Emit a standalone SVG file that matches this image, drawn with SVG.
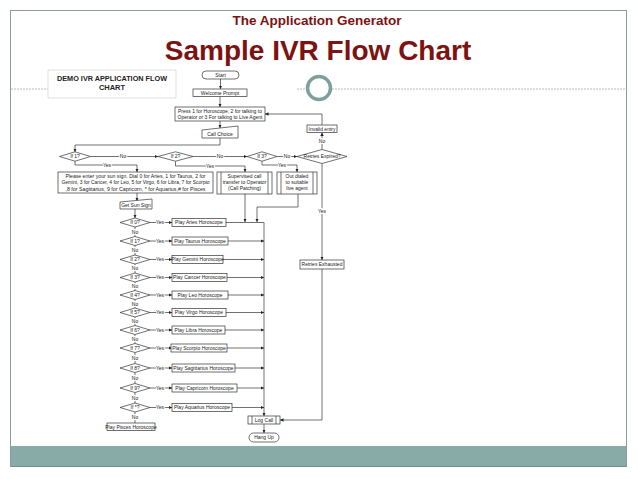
<svg xmlns="http://www.w3.org/2000/svg" width="638" height="479" viewBox="0 0 638 479">
<defs>
<marker id="ah" markerUnits="userSpaceOnUse" markerWidth="4" markerHeight="4" refX="3.5" refY="2" orient="auto"><path d="M0,0.3 L3.6,2 L0,3.7 Z" fill="#222"/></marker>
<style>
.ln{stroke:#333;stroke-width:0.7;fill:none}
.bx{fill:#fff;stroke:#333;stroke-width:0.7}
.t{font-family:"Liberation Sans",Arial,sans-serif;font-size:5px;fill:#222;text-anchor:middle}
.lb{font-family:"Liberation Sans",Arial,sans-serif;font-size:5px;fill:#222;text-anchor:middle;stroke:#fff;stroke-width:2;paint-order:stroke}
.ti{font-family:"Liberation Sans",Arial,sans-serif;font-weight:bold;fill:#7d1212;text-anchor:middle}
.dash{stroke:#aaa;stroke-width:0.8;stroke-dasharray:2 1;fill:none}
</style>
</defs>
<rect x="0" y="0" width="638" height="479" fill="#fff"/>
<g id="slide">
<rect x="10.5" y="10.5" width="616" height="456" fill="#fff" stroke="#8c9c9b" stroke-width="1"/>
<rect x="11" y="446" width="615" height="21" fill="#89aba8"/>
<line x1="11" y1="466.5" x2="626" y2="466.5" stroke="#6f8f8c" stroke-width="1"/>
<line class="dash" x1="11" y1="89" x2="48" y2="89"/>
<line class="dash" x1="297" y1="89" x2="306" y2="89"/>
<line class="dash" x1="332" y1="89" x2="626" y2="89"/>
<circle cx="319" cy="88" r="11.5" fill="none" stroke="#7f9f9c" stroke-width="3.5"/>
<text class="ti" x="317" y="25" font-size="13.5">The Application Generator</text>
<text class="ti" x="318" y="60" font-size="28">Sample IVR Flow Chart</text>
</g>
<g id="caption">
<rect x="48" y="70" width="128" height="28" fill="#fff" stroke="#ccc" stroke-width="0.6"/>
<text x="112" y="81" font-family="Liberation Sans,Arial,sans-serif" font-weight="bold" font-size="7.5" text-anchor="middle" textLength="110" lengthAdjust="spacingAndGlyphs" fill="#222">DEMO IVR APPLICATION FLOW</text>
<text x="112" y="90" font-family="Liberation Sans,Arial,sans-serif" font-weight="bold" font-size="7.5" text-anchor="middle" fill="#222">CHART</text>
</g>
<g id="connectors">
<path class="ln" d="M220.5,79 V89" marker-end="url(#ah)"/>
<path class="ln" d="M220,96.5 V107" marker-end="url(#ah)"/>
<path class="ln" d="M220,121 V128" marker-end="url(#ah)"/>
<path class="ln" d="M220,138 V145 H75 V152" marker-end="url(#ah)"/>
<path class="ln" d="M90.5,156.5 H158" marker-end="url(#ah)"/>
<path class="ln" d="M193,156.5 H247" marker-end="url(#ah)"/>
<path class="ln" d="M277,156.5 H297" marker-end="url(#ah)"/>
<path class="ln" d="M322,149.5 V132.5" marker-end="url(#ah)"/>
<path class="ln" d="M322,125 V114 H265" marker-end="url(#ah)"/>
<path class="ln" d="M322,163.5 V260" marker-end="url(#ah)"/>
<path class="ln" d="M322,269 V420 H280" marker-end="url(#ah)"/>
<path class="ln" d="M75,161.2 V165 H137 V172" marker-end="url(#ah)"/>
<path class="ln" d="M175.5,161.2 V166 H245 V172" marker-end="url(#ah)"/>
<path class="ln" d="M262,161.2 V165 H297 V172" marker-end="url(#ah)"/>
<path class="ln" d="M137,193 V201" marker-end="url(#ah)"/>
<path class="ln" d="M135,209 V218" marker-end="url(#ah)"/>
<path class="ln" d="M245,194 V222" marker-end="url(#ah)"/>
<path class="ln" d="M298,194 V207 H257 V222" marker-end="url(#ah)"/>
<path class="ln" d="M226,222.5 H264" stroke-width="1.2"/>
<path class="ln" d="M264,222.5 V416" marker-end="url(#ah)"/>
<path class="ln" d="M228,241 H264" marker-end="url(#ah)"/>
<path class="ln" d="M223,259.5 H264" marker-end="url(#ah)"/>
<path class="ln" d="M227,277.5 H264" marker-end="url(#ah)"/>
<path class="ln" d="M228,295 H264" marker-end="url(#ah)"/>
<path class="ln" d="M226,312.5 H264" marker-end="url(#ah)"/>
<path class="ln" d="M225,330 H264" marker-end="url(#ah)"/>
<path class="ln" d="M227,348 H264" marker-end="url(#ah)"/>
<path class="ln" d="M235,368 H264" marker-end="url(#ah)"/>
<path class="ln" d="M237,388 H264" marker-end="url(#ah)"/>
<path class="ln" d="M232,407.5 H264" marker-end="url(#ah)"/>
<path class="ln" d="M150,222.5 H172" marker-end="url(#ah)"/>
<path class="ln" d="M150,241 H172" marker-end="url(#ah)"/>
<path class="ln" d="M150,259.5 H172" marker-end="url(#ah)"/>
<path class="ln" d="M150,277.5 H172" marker-end="url(#ah)"/>
<path class="ln" d="M150,295 H172" marker-end="url(#ah)"/>
<path class="ln" d="M150,312.5 H172" marker-end="url(#ah)"/>
<path class="ln" d="M150,330 H172" marker-end="url(#ah)"/>
<path class="ln" d="M150,348 H172" marker-end="url(#ah)"/>
<path class="ln" d="M150,368 H172" marker-end="url(#ah)"/>
<path class="ln" d="M150,388 H172" marker-end="url(#ah)"/>
<path class="ln" d="M150,407.5 H172" marker-end="url(#ah)"/>
<path class="ln" d="M135,227 V236.5 M135,245.5 V255 M135,264 V273 M135,282 V290.5 M135,299.5 V308 M135,317 V325.5 M135,334.5 V343.5 M135,352.5 V363.5 M135,372.5 V383.5 M135,392.5 V403 M135,412 V423"/>
<path class="ln" d="M264,424 V433" marker-end="url(#ah)"/>
<text class="lb" x="123" y="158.3">No</text>
<text class="lb" x="220" y="158.3">No</text>
<text class="lb" x="287" y="158.3">No</text>
<text class="lb" x="322" y="142.5">No</text>
<text class="lb" x="322" y="213">Yes</text>
<text class="lb" x="107" y="166.8">Yes</text>
<text class="lb" x="210" y="167.8">Yes</text>
<text class="lb" x="282" y="166.8">Yes</text>
<text class="lb" x="160" y="224.3">Yes</text>
<text class="lb" x="160" y="242.8">Yes</text>
<text class="lb" x="160" y="261.3">Yes</text>
<text class="lb" x="160" y="279.3">Yes</text>
<text class="lb" x="160" y="296.8">Yes</text>
<text class="lb" x="160" y="314.3">Yes</text>
<text class="lb" x="160" y="331.8">Yes</text>
<text class="lb" x="160" y="349.8">Yes</text>
<text class="lb" x="160" y="369.8">Yes</text>
<text class="lb" x="160" y="389.8">Yes</text>
<text class="lb" x="160" y="409.3">Yes</text>
<text class="lb" x="135" y="233.5">No</text>
<text class="lb" x="135" y="252">No</text>
<text class="lb" x="135" y="270.3">No</text>
<text class="lb" x="135" y="288">No</text>
<text class="lb" x="135" y="305.5">No</text>
<text class="lb" x="135" y="323">No</text>
<text class="lb" x="135" y="340.8">No</text>
<text class="lb" x="135" y="359.8">No</text>
<text class="lb" x="135" y="379.8">No</text>
<text class="lb" x="135" y="399.5">No</text>
<text class="lb" x="135" y="419">No</text>
</g>
<g id="start"><rect class="bx" x="202" y="71" width="37" height="8" rx="4"/><text class="t" x="220.5" y="76.8">Start</text></g>
<g id="welcome"><rect class="bx" x="193" y="89" width="54" height="7.5"/><text class="t" x="220" y="94.6">Welcome Prompt</text></g>
<g id="menu"><rect class="bx" x="175" y="107" width="90" height="14"/><text class="t" x="220" y="112.6">Press 1 for Horoscope, 2 for talking to</text><text class="t" x="220" y="118.6">Operator or 3 For talking to Live Agent</text></g>
<g id="callchoice"><polygon class="bx" points="202,130 238,126 238,138 202,138"/><text class="t" x="220" y="135.6">Call Choice</text></g>
<g id="if1"><polygon class="bx" points="59.5,156.5 75,151.8 90.5,156.5 75,161.2"/><text class="t" x="75" y="158.3">If 1?</text></g>
<g id="if2"><polygon class="bx" points="158,156.5 175.5,151.8 193,156.5 175.5,161.2"/><text class="t" x="175.5" y="158.3">If 2?</text></g>
<g id="if3"><polygon class="bx" points="247,156.5 262,151.8 277,156.5 262,161.2"/><text class="t" x="262" y="158.3">If 3?</text></g>
<g id="retries"><polygon class="bx" points="297,156.5 322,149.5 347,156.5 322,163.5"/><text class="t" x="322" y="158.3">Retries Expired?</text></g>
<g id="invalid"><rect class="bx" x="307" y="125" width="30" height="7.5"/><text class="t" x="322" y="130.6">Invalid entry</text></g>
<g id="exhausted"><rect class="bx" x="300" y="260" width="44" height="9"/><text class="t" x="322" y="266.3">Retries Exhausted</text></g>
<g id="sunprompt"><rect class="bx" x="58" y="172" width="155" height="21"/>
<text class="t" x="135.5" y="177.8" textLength="140" lengthAdjust="spacingAndGlyphs">Please enter your sun sign. Dial 0 for Aries, 1 for Taurus, 2 for</text>
<text class="t" x="135.5" y="184.3" textLength="148" lengthAdjust="spacingAndGlyphs">Gemini, 3 for Cancer, 4 for Leo, 5 for Virgo, 6 for Libra, 7 for Scorpio</text>
<text class="t" x="135.5" y="190.8" textLength="140" lengthAdjust="spacingAndGlyphs">,8 for Sagittarius, 9 for Capricorn, * for Aquarius,# for Pisces</text></g>
<g id="getsun"><polygon class="bx" points="120,202 152,199 152,209 120,209"/><text class="t" x="136" y="206.6">Get Sun Sign</text></g>
<g id="supervised"><rect class="bx" x="217" y="172" width="55" height="22"/><path class="ln" d="M221,172 V194 M268,172 V194"/><text class="t" x="244.5" y="178.3">Supervised call</text><text class="t" x="244.5" y="184.3">transfer to Operator</text><text class="t" x="244.5" y="190.3">(Call Patching)</text></g>
<g id="outdialed"><rect class="bx" x="277" y="172" width="40" height="22"/><path class="ln" d="M281,172 V194 M313,172 V194"/><text class="t" x="297" y="178.3">Out dialed</text><text class="t" x="297" y="184.3">to suitable</text><text class="t" x="297" y="190.3">live agent</text></g>
<g id="d0"><polygon class="bx" points="120,222.5 135,218 150,222.5 135,227"/><text class="t" x="135" y="224.3">If 0?</text></g>
<g id="d1"><polygon class="bx" points="120,241 135,236.5 150,241 135,245.5"/><text class="t" x="135" y="242.8">If 1?</text></g>
<g id="d2"><polygon class="bx" points="120,259.5 135,255 150,259.5 135,264"/><text class="t" x="135" y="261.3">If 2?</text></g>
<g id="d3"><polygon class="bx" points="120,277.5 135,273 150,277.5 135,282"/><text class="t" x="135" y="279.3">If 3?</text></g>
<g id="d4"><polygon class="bx" points="120,295 135,290.5 150,295 135,299.5"/><text class="t" x="135" y="296.8">If 4?</text></g>
<g id="d5"><polygon class="bx" points="120,312.5 135,308 150,312.5 135,317"/><text class="t" x="135" y="314.3">If 5?</text></g>
<g id="d6"><polygon class="bx" points="120,330 135,325.5 150,330 135,334.5"/><text class="t" x="135" y="331.8">If 6?</text></g>
<g id="d7"><polygon class="bx" points="120,348 135,343.5 150,348 135,352.5"/><text class="t" x="135" y="349.8">If 7?</text></g>
<g id="d8"><polygon class="bx" points="120,368 135,363.5 150,368 135,372.5"/><text class="t" x="135" y="369.8">If 8?</text></g>
<g id="d9"><polygon class="bx" points="120,388 135,383.5 150,388 135,392.5"/><text class="t" x="135" y="389.8">If 9?</text></g>
<g id="dstar"><polygon class="bx" points="120,407.5 135,403 150,407.5 135,412"/><text class="t" x="135" y="409.3">If *?</text></g>
<g id="aries"><rect class="bx" x="172" y="218.5" width="54" height="8"/><text class="t" x="199" y="224.3">Play Aries Horoscope</text></g>
<g id="taurus"><rect class="bx" x="172" y="237" width="56" height="8"/><text class="t" x="200" y="242.8">Play Taurus Horoscope</text></g>
<g id="gemini"><rect class="bx" x="172" y="255.5" width="51" height="8"/><text class="t" x="197.5" y="261.3">Play Gemini Horoscope</text></g>
<g id="cancer"><rect class="bx" x="172" y="273.5" width="55" height="8"/><text class="t" x="199.5" y="279.3">Play Cancer Horoscope</text></g>
<g id="leo"><rect class="bx" x="172" y="291" width="56" height="8"/><text class="t" x="200" y="296.8">Play Leo Horoscope</text></g>
<g id="virgo"><rect class="bx" x="172" y="308.5" width="54" height="8"/><text class="t" x="199" y="314.3">Play Virgo Horoscope</text></g>
<g id="libra"><rect class="bx" x="172" y="326" width="53" height="8"/><text class="t" x="198.5" y="331.8">Play Libra Horoscope</text></g>
<g id="scorpio"><rect class="bx" x="171" y="344" width="56" height="8"/><text class="t" x="199" y="349.8">Play Scorpio Horoscope</text></g>
<g id="sagittarius"><rect class="bx" x="172" y="364" width="63" height="8"/><text class="t" x="203.5" y="369.8">Play Sagittarius Horoscope</text></g>
<g id="capricorn"><rect class="bx" x="172" y="384" width="65" height="8"/><text class="t" x="204.5" y="389.8">Play Capricorn Horoscope</text></g>
<g id="aquarius"><rect class="bx" x="172" y="403.5" width="60" height="8"/><text class="t" x="202" y="409.3">Play Aquarius Horoscope</text></g>
<g id="pisces"><rect class="bx" x="107" y="423" width="48" height="7.5"/><text class="t" x="131" y="428.6">Play Pisces Horoscope</text></g>
<g id="logcall"><rect class="bx" x="248" y="416" width="32" height="8"/><path class="ln" d="M252,416 V424 M276,416 V424"/><text class="t" x="264" y="421.8">Log Call</text></g>
<g id="hangup"><rect class="bx" x="249" y="433" width="30" height="9" rx="4.5"/><text class="t" x="264" y="439.3">Hang Up</text></g>
</svg>
